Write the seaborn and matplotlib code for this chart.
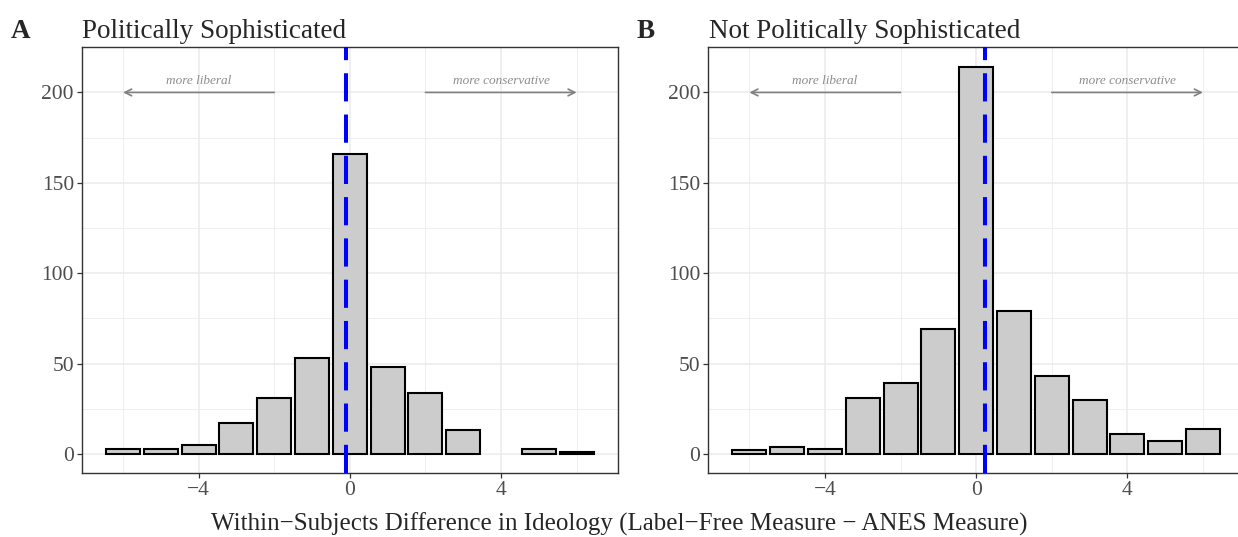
import numpy as np
import pandas as pd
import matplotlib
matplotlib.use("Agg")
import matplotlib.pyplot as plt
import seaborn as sns

# Within-subject ideology differences (label-free minus ANES) and their counts
soph_diff = [-6, -5, -4, -3, -2, -1, 0, 1, 2, 3, 5, 6]
soph_count = [3, 3, 5, 17, 31, 53, 166, 48, 34, 13, 3, 1]

nonsoph_diff = [-6, -5, -4, -3, -2, -1, 0, 1, 2, 3, 4, 5, 6]
nonsoph_count = [2, 4, 3, 31, 39, 69, 214, 79, 43, 30, 11, 7, 14]

panel_letters = ["A", "B"]
panel_titles = ["Politically Sophisticated", "Not Politically Sophisticated"]
x_ticks = [-4, 0, 4]
y_ticks = [0, 50, 100, 150, 200]
x_label = "Within\u2212Subjects Difference in Ideology (Label\u2212Free Measure \u2212 ANES Measure)"
left_note = "more liberal"
right_note = "more conservative"

sns.set_style("white")
plt.rcParams["font.family"] = ["Liberation Serif", "DejaVu Serif"]

GRID = "#EBEBEB"
DARK = "#333333"
TICKLAB = "#4D4D4D"

fig = plt.figure(figsize=(12.38, 5.37), dpi=100)
ax_w = 0.4332
ax_h = 0.912 - 0.1186
axes = [fig.add_axes([0.066, 0.1186, ax_w, ax_h]),
        fig.add_axes([0.5719, 0.1186, ax_w, ax_h])]

datasets = [(soph_diff, soph_count), (nonsoph_diff, nonsoph_count)]

for i, (ax, (diffs, counts)) in enumerate(zip(axes, datasets)):
    df = pd.DataFrame({"diff": diffs, "count": counts})
    sns.barplot(data=df, x="diff", y="count", native_scale=True, orient="x",
                width=0.9, color="#CCCCCC", edgecolor="black", linewidth=1.5,
                saturation=1, errorbar=None, ax=ax, zorder=3)

    mean_diff = np.average(df["diff"], weights=df["count"])
    ax.axvline(mean_diff, color="blue", lw=2.9, dashes=(7, 3.25),
               dash_capstyle="butt", zorder=4)

    ax.set_xlim(-7.095, 7.095)
    ax.set_ylim(-10.7, 224.7)
    ax.set_xticks(x_ticks)
    ax.set_xticks([-6, -2, 2, 6], minor=True)
    ax.set_yticks(y_ticks)
    ax.set_yticks([25, 75, 125, 175, 225], minor=True)
    ax.set_xlabel("")
    ax.set_ylabel("")

    ax.grid(True, which="major", color=GRID, lw=1.1, zorder=0)
    ax.grid(True, which="minor", color=GRID, lw=0.55, zorder=0)
    ax.set_axisbelow(True)
    for sp in ax.spines.values():
        sp.set_visible(True)
        sp.set_color(DARK)
        sp.set_linewidth(1.0)
    ax.tick_params(which="major", length=3.6, width=0.9, color=DARK,
                   labelcolor=TICKLAB, labelsize=15.5, pad=2,
                   bottom=True, left=True)
    ax.tick_params(which="minor", length=0)

    # direction annotations
    ax.annotate("", xy=(-6, 200), xytext=(-2, 200),
                arrowprops=dict(arrowstyle="->", color="#808080", lw=1.2,
                                shrinkA=0, shrinkB=0, mutation_scale=12), zorder=5)
    ax.annotate("", xy=(6, 200), xytext=(2, 200),
                arrowprops=dict(arrowstyle="->", color="#808080", lw=1.2,
                                shrinkA=0, shrinkB=0, mutation_scale=12), zorder=5)
    ax.text(-4, 203, left_note, ha="center", va="bottom", fontsize=9.5,
            style="italic", color="#8C8C8C", zorder=5)
    ax.text(4, 203, right_note, ha="center", va="bottom", fontsize=9.5,
            style="italic", color="#8C8C8C", zorder=5)

# panel letters and titles
title_y = 0.930
fig.text(0.0089, title_y, panel_letters[0], fontsize=19.5, fontweight="bold",
         ha="left", va="baseline")
fig.text(0.066, title_y, panel_titles[0], fontsize=19.5, ha="left", va="baseline")
fig.text(0.5143, title_y, panel_letters[1], fontsize=19.5, fontweight="bold",
         ha="left", va="baseline")
fig.text(0.5727, title_y, panel_titles[1], fontsize=19.5, ha="left", va="baseline")

fig.text(0.5, 0.012, x_label, fontsize=18.0, ha="center", va="baseline")

fig.savefig("out.png", dpi=100)
